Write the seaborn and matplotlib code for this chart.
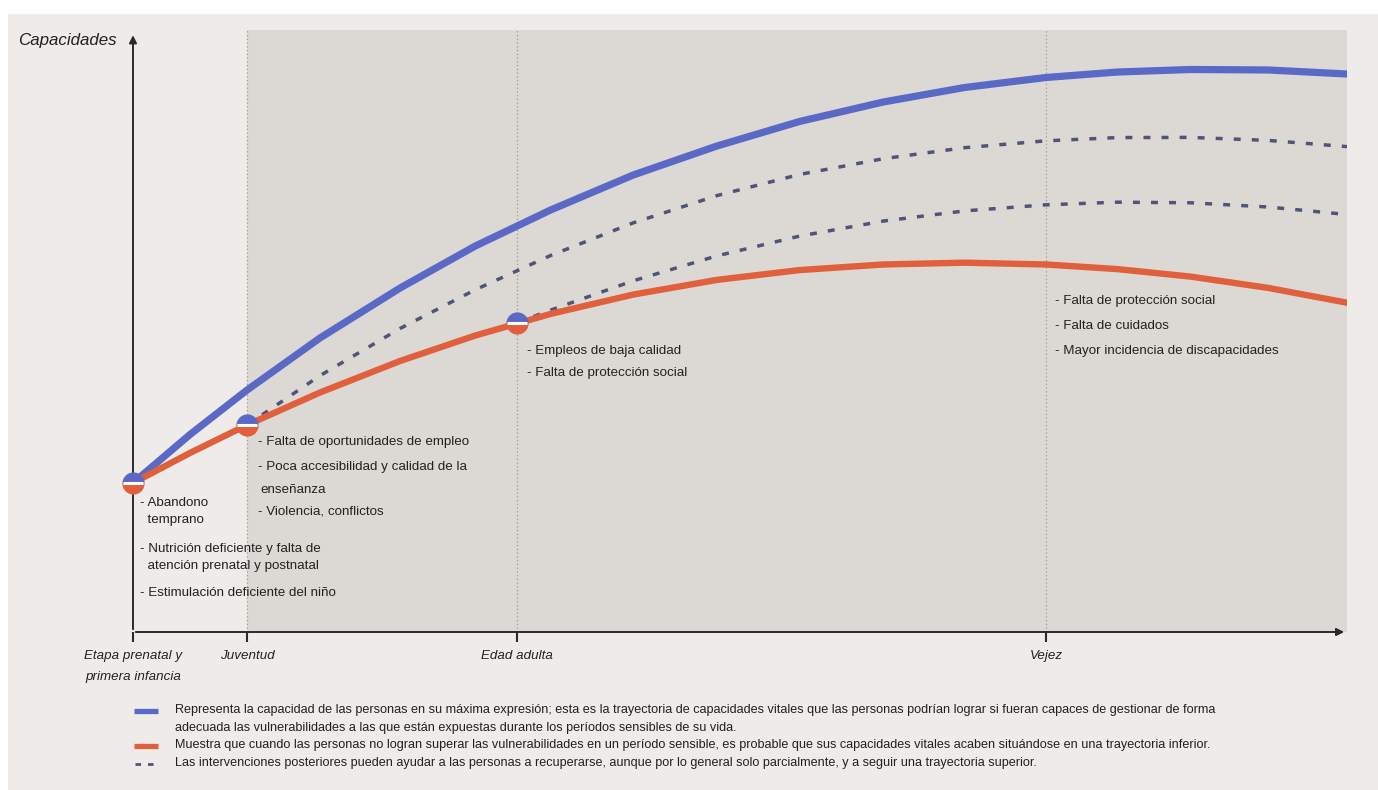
import matplotlib.pyplot as plt
import seaborn as sns
from matplotlib.lines import Line2D
from matplotlib.patches import Rectangle

# stages on the x axis (0 = birth, 100 = end of chart)
stage_x = [0, 9.4, 31.6, 75.2]
stage_labels = ['Etapa prenatal y\nprimera infancia', 'Juventud', 'Edad adulta', 'Vejez']

# common x positions used to read the curves
grid_x = [0, 4.7, 9.4, 15.4, 22.0, 28.2, 34.4, 41.2, 48.1, 54.9, 61.8, 68.5, 75.2, 81.1, 87.1, 93.5, 100]

# maximum capacity trajectory (blue)
max_y = [24.75, 32.81, 40.20, 48.84, 57.14, 64.12, 70.10, 75.91, 80.73, 84.80, 88.04, 90.45,
         92.11, 93.02, 93.44, 93.36, 92.69]

# lower trajectory (orange)
low_y = [24.75, 29.75, 34.39, 39.78, 45.02, 49.25, 52.84, 56.05, 58.49, 60.12, 61.05, 61.35,
         61.05, 60.28, 59.04, 57.16, 54.70]

# recovery after youth (dashed, upper)
rec1_x = [9.4, 15.4, 22.0, 28.2, 34.4, 41.2, 48.1, 54.9, 61.8, 68.5, 75.2, 81.1, 87.1, 93.5, 100]
rec1_y = [34.39, 42.58, 50.42, 56.86, 62.54, 67.96, 72.49, 76.00, 78.62, 80.45, 81.59, 82.13,
          82.16, 81.66, 80.63]

# recovery after adulthood (dashed, lower)
rec2_x = [31.6, 34.4, 41.2, 48.1, 54.9, 61.8, 68.5, 75.2, 81.1, 87.1, 93.5, 100]
rec2_y = [51.33, 53.47, 58.34, 62.48, 65.76, 68.26, 69.95, 70.96, 71.40, 71.30, 70.60, 69.35]

# sensitive-period points
point_x = [0, 9.4, 31.6]
point_y = [24.75, 34.39, 51.33]

notes_prenatal = ['- Abandono', '  temprano', '- Nutrición deficiente y falta de',
                  '  atención prenatal y postnatal', '- Estimulación deficiente del niño']
notes_youth = ['- Falta de oportunidades de empleo', '- Poca accesibilidad y calidad de la',
               'enseñanza', '- Violencia, conflictos']
notes_adult = ['- Empleos de baja calidad', '- Falta de protección social']
notes_old = ['- Falta de protección social', '- Falta de cuidados', '- Mayor incidencia de discapacidades']

legend_texts = [
    'Representa la capacidad de las personas en su máxima expresión; esta es la trayectoria de capacidades vitales que las personas podrían lograr si fueran capaces de gestionar de forma',
    'adecuada las vulnerabilidades a las que están expuestas durante los períodos sensibles de su vida.',
    'Muestra que cuando las personas no logran superar las vulnerabilidades en un período sensible, es probable que sus capacidades vitales acaben situándose en una trayectoria inferior.',
    'Las intervenciones posteriores pueden ayudar a las personas a recuperarse, aunque por lo general solo parcialmente, y a seguir una trayectoria superior.',
]

BLUE = '#5b69c6'
ORANGE = '#e0603d'
DASH = '#4f5479'
PANEL = '#eeebe8'
SHADE = '#dcd9d4'
TXT = '#222222'

sns.set_theme(style='white')
plt.rcParams['font.family'] = ['Liberation Sans', 'DejaVu Sans']

W, H = 1378, 790
fig = plt.figure(figsize=(W / 100, H / 100), dpi=100, facecolor='white')


def px(x, y):
    return x / W, 1 - y / H


# panel background (white strip on top and left edge)
fig.patches.append(Rectangle((8 / W, 0), 1 - 8 / W, 1 - 14 / H, transform=fig.transFigure,
                             facecolor=PANEL, edgecolor='none', zorder=-5))

ax = fig.add_axes([133 / W, 1 - 632 / H, 1214 / W, 602 / H])
ax.set_facecolor(PANEL)
ax.set_xlim(0, 100)
ax.set_ylim(0, 100)

ax.axvspan(stage_x[1], 100, color=SHADE, zorder=0, lw=0)
for sx in stage_x[1:]:
    ax.axvline(sx, color='#9c9c9c', lw=0.9, ls=(0, (1, 2)), zorder=1)

sns.lineplot(x=rec1_x, y=rec1_y, ax=ax, color=DASH, lw=2.5, linestyle=(0, (2, 3.2)), zorder=2)
sns.lineplot(x=rec2_x, y=rec2_y, ax=ax, color=DASH, lw=2.5, linestyle=(0, (2, 3.2)), zorder=2)
sns.lineplot(x=grid_x, y=max_y, ax=ax, color=BLUE, lw=5.2, zorder=3, solid_joinstyle='round')
sns.lineplot(x=grid_x, y=low_y, ax=ax, color=ORANGE, lw=4.6, zorder=3, solid_joinstyle='round')

ax.plot(point_x, point_y, ls='none', marker='o', ms=16, fillstyle='top',
        markerfacecolor=BLUE, markerfacecoloralt=ORANGE, markeredgecolor='none', zorder=5, clip_on=False)
ax.plot(point_x, point_y, ls='none', marker='_', ms=14, mew=2.2, color='white', zorder=6, clip_on=False)

for s in ax.spines.values():
    s.set_visible(False)
ax.annotate('', xy=(0, 99.6), xytext=(0, 0), xycoords='data',
            arrowprops=dict(arrowstyle='-|>', color='#2a2a2a', lw=1.4, mutation_scale=11), annotation_clip=False)
ax.annotate('', xy=(100, 0), xytext=(0, 0), xycoords='data',
            arrowprops=dict(arrowstyle='-|>', color='#2a2a2a', lw=1.4, mutation_scale=11), annotation_clip=False)

ax.set_yticks([])
ax.set_xticks(stage_x, stage_labels, fontstyle='italic', fontsize=9.6, color=TXT, linespacing=1.95)
ax.tick_params(axis='x', direction='out', length=7, width=1.5, color='#2a2a2a', pad=6, bottom=True)
ax.set_xlabel('')
ax.set_ylabel('')

fig.text(*px(18, 40), 'Capacidades', fontstyle='italic', fontsize=12.2, color=TXT, va='center', ha='left')

# annotations
NOTE_FS = 9.6
for txt, y in zip(notes_prenatal, [503, 520, 549, 566, 593]):
    fig.text(*px(140, y), txt, fontsize=NOTE_FS, color=TXT, va='center')
for txt, y, x in zip(notes_youth, [442, 467, 490, 512], [258, 258, 260, 258]):
    fig.text(*px(x, y), txt, fontsize=NOTE_FS, color=TXT, va='center')
for txt, y in zip(notes_adult, [351, 373]):
    fig.text(*px(527, y), txt, fontsize=NOTE_FS, color=TXT, va='center')
for txt, y in zip(notes_old, [301, 326, 351]):
    fig.text(*px(1055, y), txt, fontsize=NOTE_FS, color=TXT, va='center')

# legend
fig.add_artist(Line2D([134 / W, 158 / W], [1 - 711 / H] * 2, color=BLUE, lw=3.8, solid_capstyle='butt'))
fig.add_artist(Line2D([134 / W, 158 / W], [1 - 746 / H] * 2, color=ORANGE, lw=3.8, solid_capstyle='butt'))
fig.add_artist(Line2D([135 / W, 160 / W], [1 - 764 / H] * 2, color=DASH, lw=2, ls=(0, (2, 2.5))))
for txt, y in zip(legend_texts, [710, 728, 745, 763]):
    fig.text(*px(175, y), txt, fontsize=9.1, color=TXT, va='center')

fig.savefig('out.png', dpi=100, facecolor='white')
